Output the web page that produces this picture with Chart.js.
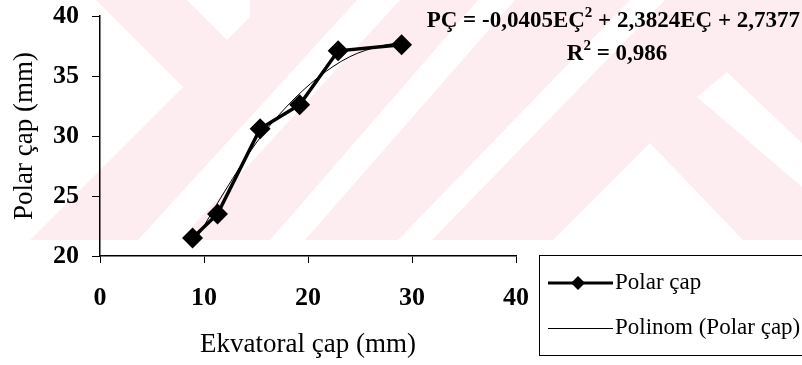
<!DOCTYPE html>
<html>
<head>
<meta charset="utf-8">
<script src="https://cdn.jsdelivr.net/npm/chart.js@4.4.0/dist/chart.umd.min.js"></script>
<style>
    html, body { margin: 0; padding: 0; background: #fff; }
    #wrap { position: relative; width: 802px; height: 365px; }
</style>
</head>
<body>
<div id="wrap"><canvas id="polarChart" width="802" height="365"></canvas></div>
<script>
// Ekvatoral çap (mm) - x değerleri
const ekvatoralCap = [8.9, 11.3, 15.4, 19.2, 22.9, 29.0];
// Polar çap (mm) - y değerleri
const polarCap = [21.5, 23.5, 30.6, 32.6, 37.1, 37.6];
// Polinom eğilim çizgisi (resimden okunan noktalar)
const trendX = [8.9, 12, 15, 18, 21, 24, 27, 29];
const trendY = [20.9, 25.4, 29.4, 32.5, 34.9, 36.6, 37.5, 37.8];
// Eksen sınırları
const xRange = [0, 40, 10];
const yRange = [20, 40, 5];

const serif = '"Liberation Serif", "Times New Roman", serif';

// Arka plandaki pembe filigran
const watermark = {
    id: 'watermark',
    beforeDraw(chart) {
        const ctx = chart.ctx;
        ctx.save();
        ctx.fillStyle = 'rgb(253, 237, 241)';
        ctx.fillRect(0, 0, 802, 240);
        ctx.fillStyle = '#fff';
        const shapes = [
            [[0, 0], [96, 0], [183, 87], [30, 240], [0, 240]],
            [[187, 0], [250, 0], [250, 17], [227, 40]],
            [[138, 240], [180, 240], [400, 0], [357, 0]],
            [[270, 240], [305, 240], [515, 0], [478, 0]],
            [[398, 240], [432, 240], [665, 0], [630, 0]],
            [[697, 97], [727, 72], [802, 143], [802, 187]],
            [[650, 143], [743, 240], [553, 240]]
        ];
        shapes.forEach(pts => {
            ctx.beginPath();
            pts.forEach((p, i) => i ? ctx.lineTo(p[0], p[1]) : ctx.moveTo(p[0], p[1]));
            ctx.closePath();
            ctx.fill();
        });
        ctx.restore();
    }
};

// Denklem ve lejant
const annotations = {
    id: 'annotations',
    afterDraw(chart) {
        const ctx = chart.ctx;
        ctx.save();
        ctx.fillStyle = '#000';
        ctx.textBaseline = 'alphabetic';

        // PÇ = -0,0405EÇ² + 2,3824EÇ + 2,7377
        const main = 'bold 23px ' + serif;
        const sup = 'bold 15px ' + serif;
        const parts1 = [['PÇ = -0,0405EÇ', main, 0], ['2', sup, -10], [' + 2,3824EÇ + 2,7377', main, 0]];
        const parts2 = [['R', main, 0], ['2', sup, -10], [' = 0,986', main, 0]];
        const widthOf = parts => parts.reduce((w, p) => { ctx.font = p[1]; return w + ctx.measureText(p[0]).width; }, 0);
        const drawParts = (parts, x, y) => {
            parts.forEach(p => {
                ctx.font = p[1];
                ctx.fillText(p[0], x, y + p[2]);
                x += ctx.measureText(p[0]).width;
            });
        };
        drawParts(parts1, 800 - widthOf(parts1), 27);
        drawParts(parts2, 617 - widthOf(parts2) / 2, 60);

        // Lejant kutusu
        ctx.strokeStyle = '#000';
        ctx.lineWidth = 1;
        ctx.strokeRect(539.5, 255.5, 300, 100);

        ctx.lineWidth = 3;
        ctx.beginPath();
        ctx.moveTo(548, 283);
        ctx.lineTo(613, 283);
        ctx.stroke();
        ctx.beginPath();
        ctx.moveTo(578, 276);
        ctx.lineTo(585, 283);
        ctx.lineTo(578, 290);
        ctx.lineTo(571, 283);
        ctx.closePath();
        ctx.fill();

        ctx.lineWidth = 1;
        ctx.beginPath();
        ctx.moveTo(548, 328.5);
        ctx.lineTo(613, 328.5);
        ctx.stroke();

        ctx.font = '23px ' + serif;
        ctx.textBaseline = 'middle';
        ctx.fillText('Polar çap', 615, 283);
        ctx.fillText('Polinom (Polar çap)', 615, 328);
        ctx.restore();
    }
};

const ctx = document.getElementById('polarChart').getContext('2d');
new Chart(ctx, {
    type: 'scatter',
    data: {
        datasets: [{
            label: 'Polar çap',
            data: ekvatoralCap.map((x, i) => ({ x: x, y: polarCap[i] })),
            showLine: true,
            borderColor: '#000',
            backgroundColor: '#000',
            borderWidth: 3.5,
            pointStyle: 'rectRot',
            pointRadius: 8,
            order: 1
        }, {
            label: 'Polinom (Polar çap)',
            data: trendX.map((x, i) => ({ x: x, y: trendY[i] })),
            showLine: true,
            borderColor: '#000',
            borderWidth: 1,
            pointRadius: 0,
            cubicInterpolationMode: 'monotone',
            order: 0
        }]
    },
    options: {
        responsive: false,
        animation: false,
        devicePixelRatio: 1,
        layout: { padding: { top: 16, right: 286, bottom: 0, left: 0 } },
        scales: {
            x: {
                type: 'linear',
                min: xRange[0],
                max: xRange[1],
                afterFit: s => { s.height = 109; s.paddingLeft = 0; s.paddingRight = 0; },
                ticks: { stepSize: xRange[2], color: '#000', padding: 20, font: { family: serif, size: 26, weight: 'bold' } },
                grid: { drawOnChartArea: false, color: '#000', tickLength: 7 },
                border: { color: '#000', width: 1.5 },
                title: { display: true, text: 'Ekvatoral çap (mm)', color: '#000', font: { family: serif, size: 27 }, padding: { top: 0, bottom: 4 } }
            },
            y: {
                min: yRange[0],
                max: yRange[1],
                afterFit: s => { s.width = 100; s.paddingTop = 0; s.paddingBottom = 0; },
                ticks: { stepSize: yRange[2], color: '#000', padding: 13, font: { family: serif, size: 26, weight: 'bold' } },
                grid: { drawOnChartArea: false, color: '#000', tickLength: 8 },
                border: { color: '#000', width: 1.5 },
                title: { display: true, text: 'Polar çap (mm)', color: '#000', font: { family: serif, size: 27 }, padding: { top: 9, bottom: 0 } }
            }
        },
        plugins: {
            legend: { display: false },
            tooltip: { enabled: false }
        }
    },
    plugins: [watermark, annotations]
});
</script>
</body>
</html>
